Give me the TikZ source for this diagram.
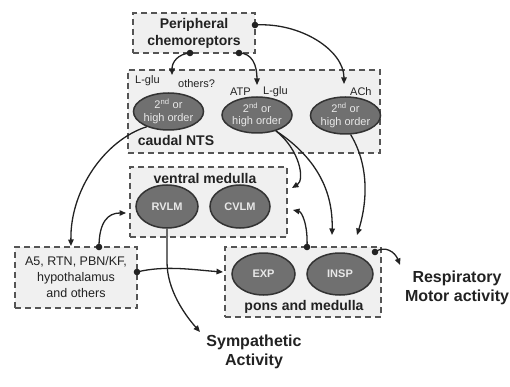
\documentclass[tikz,border=0pt]{standalone}
\usepackage{fontspec}
\setmainfont{Liberation Sans}
\usetikzlibrary{shapes.geometric,arrows.meta}
\definecolor{boxfill}{HTML}{F0F0F0}
\definecolor{boxline}{HTML}{555555}
\definecolor{ellfill}{HTML}{707070}
\definecolor{ellline}{HTML}{333333}
\definecolor{ink}{HTML}{222222}
\definecolor{elltext}{HTML}{E8E8E8}
\tikzset{
 region/.style={draw=boxline, fill=boxfill, line width=2pt, dash pattern=on 6pt off 4pt, rectangle, inner sep=0pt, text=ink, align=center},
 cell/.style={ellipse, draw=ellline, fill=ellfill, line width=1.5pt, text=elltext, inner sep=0pt, font=\fontsize{11}{12.5}\selectfont, align=center},
 celltag/.style={cell, font=\fontsize{11}{12}\selectfont\bfseries},
 lab/.style={text=ink, inner sep=0pt, font=\fontsize{11}{13}\selectfont},
 title/.style={text=ink, inner sep=0pt, font=\fontsize{14}{17}\selectfont\bfseries, align=center},
 bigtitle/.style={text=ink, inner sep=0pt, font=\fontsize{16}{19}\selectfont\bfseries, align=center},
 conn/.style={draw=ink, line width=1.3pt, -{Triangle[length=6.5pt,width=5.5pt]}},
}
\begin{document}
\begin{tikzpicture}[x=1pt,y=-1pt]
\useasboundingbox (0,0) rectangle (510,387);
% regions
\node[region, minimum width=122pt, minimum height=40pt, font=\fontsize{14}{17}\selectfont\bfseries] (pc) at (194,33) {Peripheral\\chemoreptors};
\node[region, minimum width=252pt, minimum height=83pt] (nts) at (254,111.5) {};
\node[region, minimum width=157pt, minimum height=70pt] (vm) at (208.5,202) {};
\node[region, minimum width=122pt, minimum height=61pt, font=\fontsize{12.5}{16}\selectfont] (a5) at (76,277.5) {A5, RTN, PBN/KF,\\hypothalamus\\and others};
\node[region, minimum width=156pt, minimum height=70pt] (pm) at (303,282) {};
% region titles
\node[title] (ntsT) at (176,140) {caudal NTS};
\node[title] (vmT) at (205,178) {ventral medulla};
\node[title] (pmT) at (304,307) {pons and medulla};
% transmitter labels
\node[lab, anchor=west] (g1) at (135,81) {L-glu};
\node[lab, anchor=west] (o1) at (178,84) {others?};
\node[lab, anchor=west] (atp) at (230,92) {ATP};
\node[lab, anchor=west] (g2) at (263,92) {L-glu};
\node[lab, anchor=west] (ach) at (350,92) {ACh};
% cells
\node[cell, minimum width=63pt, minimum height=37pt] (n1) at (168.5,111.5) {2\textsuperscript{nd} or\\high order};
\node[cell, minimum width=60pt, minimum height=36pt] (n2) at (257,115) {2\textsuperscript{nd} or\\high order};
\node[cell, minimum width=64pt, minimum height=37pt] (n3) at (345.5,115.5) {2\textsuperscript{nd} or\\high order};
\node[celltag, minimum width=62pt, minimum height=43pt] (rvlm) at (167,206.5) {RVLM};
\node[celltag, minimum width=60pt, minimum height=43pt] (cvlm) at (240,206.5) {CVLM};
\node[celltag, minimum width=63pt, minimum height=42pt] (exp) at (263.5,274) {EXP};
\node[celltag, minimum width=66pt, minimum height=42pt] (insp) at (340,274) {INSP};
% outputs
\node[bigtitle] (resp) at (457,288) {Respiratory\\Motor activity};
\node[bigtitle] (symp) at (254,352) {Sympathetic\\Activity};
% dots and end points
\coordinate (pcR) at (255,25);
\coordinate (pcB1) at (190,53);
\coordinate (pcB2) at (239,53);
\coordinate (a5T) at (99,247);
\coordinate (a5R) at (137,272);
\coordinate (pmT) at (307,247);
\coordinate (pmC) at (375,252);
\coordinate (tG1) at (172,75);
\coordinate (tATP) at (257,85);
\coordinate (tACh) at (344,84);
\coordinate (tA5) at (71,246);
\coordinate (tVmL) at (126,213);
\coordinate (tPmL) at (223,272);
\coordinate (tSym) at (200,332);
\coordinate (tVmR1) at (292,188);
\coordinate (tVmR2) at (293,210);
\coordinate (tPm1) at (332,235);
\coordinate (tPm2) at (357,235);
\coordinate (tResp) at (400,265);
% connectors
\draw[conn] (pcR) .. controls (300,22) and (344,50) .. (tACh);
\draw[conn] (pcB1) .. controls (178,54) and (172,62) .. (tG1);
\draw[conn] (pcB2) .. controls (252,53) and (257,65) .. (tATP);
\draw[conn] (n1.215) .. controls (105,140) and (70,190) .. (tA5);
\draw[conn] (a5T) .. controls (99,222) and (108,213) .. (tVmL);
\draw[conn] (a5R) .. controls (165,265) and (195,270) .. (tPmL);
\draw[conn] (rvlm.south) -- (167,262) .. controls (167,290) and (185,315) .. (tSym);
\draw[conn] (n2.-40) .. controls (300,150) and (305,180) .. (tVmR1);
\draw[conn] (n2.-40) .. controls (320,160) and (333,195) .. (tPm1);
\draw[conn] (n3.-75) .. controls (372,170) and (365,210) .. (tPm2);
\draw[conn] (pmT) .. controls (308,225) and (302,212) .. (tVmR2);
\draw[conn] (pmC) .. controls (385,245) and (395,252) .. (tResp);
\foreach \d in {pcR,pcB1,pcB2,a5T,a5R,pmT,pmC} \fill[ink] (\d) circle (3.3pt);
\end{tikzpicture}
\end{document}
